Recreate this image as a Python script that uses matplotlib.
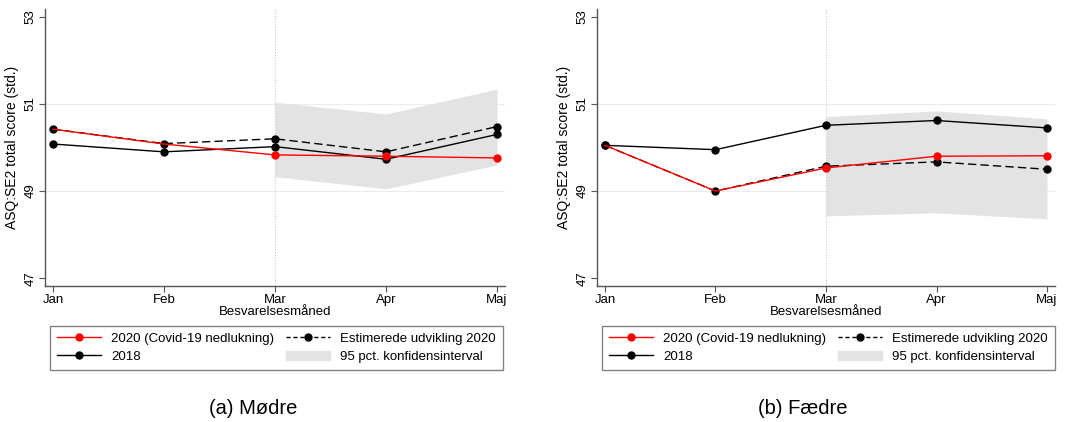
import matplotlib.pyplot as plt
from matplotlib.lines import Line2D
from matplotlib.patches import Patch

plt.rcParams['font.family'] = ['Liberation Sans', 'DejaVu Sans']

months = ["Jan", "Feb", "Mar", "Apr", "Maj"]

# Mødre
mor_2020 = [50.42, 50.08, 49.83, 49.80, 49.76]
mor_est = [50.42, 50.09, 50.20, 49.90, 50.48]
mor_2018 = [50.08, 49.90, 50.02, 49.73, 50.30]
mor_ci_lo = [49.33, 49.05, 49.60]
mor_ci_hi = [51.04, 50.77, 51.34]

# Fædre
far_2020 = [50.05, 49.00, 49.53, 49.80, 49.81]
far_est = [50.05, 49.00, 49.57, 49.67, 49.50]
far_2018 = [50.05, 49.95, 50.51, 50.62, 50.45]
far_ci_lo = [48.43, 48.50, 48.36]
far_ci_hi = [50.71, 50.84, 50.66]

fig = plt.figure(figsize=(10.81, 4.22), dpi=100)


def panel(rect, v2020, vest, v2018, lo, hi, caption, leg_x, cap_x):
    ax = fig.add_axes(rect)
    x = list(range(len(months)))
    xc = x[2:]
    ax.fill_between(xc, lo, hi, color="#e3e3e3", lw=0, zorder=1)
    for yv in (49, 51):
        ax.axhline(yv, color="#ececec", lw=0.8, zorder=0)
    ax.axvline(2, color="#c8c8c8", lw=0.8, ls=(0, (1, 1.5)), zorder=1)
    ax.plot(x, v2018, color="black", lw=1, marker="o", ms=5, zorder=3)
    ax.plot(x, vest, color="black", lw=1, ls=(0, (6, 3)), marker="o", ms=5, zorder=4)
    ax.plot(x, v2020, color="red", lw=1, marker="o", ms=5, zorder=5,
            markevery=[2, 3, 4])

    ax.set_xlim(-0.072, 4.072)
    ax.set_ylim(46.82, 53.18)
    ax.set_xticks(x)
    ax.set_xticklabels(months, fontsize=9.5)
    ax.set_yticks([47, 49, 51, 53])
    ax.set_yticklabels(["47", "49", "51", "53"], rotation=90, va="center", fontsize=9.5)
    ax.tick_params(axis="both", length=4, width=0.8, color="#555555", pad=2)
    ax.set_xlabel("Besvarelsesmåned", fontsize=9.5, labelpad=0)
    ax.set_ylabel("ASQ:SE2 total score (std.)", fontsize=10, labelpad=4)
    for s in ("top", "right"):
        ax.spines[s].set_visible(False)
    for s in ("left", "bottom"):
        ax.spines[s].set_color("#555555")
        ax.spines[s].set_linewidth(1)

    handles = [
        Line2D([], [], color="red", lw=1, marker="o", ms=5),
        Line2D([], [], color="black", lw=1, marker="o", ms=5),
        Line2D([], [], color="black", lw=1, ls=(0, (3, 2)), marker="o", ms=5),
        Patch(color="#e3e3e3"),
    ]
    labels = ["2020 (Covid-19 nedlukning)", "2018",
              "Estimerede udvikling 2020", "95 pct. konfidensinterval"]
    leg = fig.legend(handles, labels, ncol=2, loc="upper left",
                     bbox_to_anchor=(leg_x, 1 - 326 / 422), fontsize=9.5,
                     frameon=True, fancybox=False, handlelength=3.4,
                     columnspacing=0.85, labelspacing=0.45, borderpad=0.5,
                     handletextpad=0.75, borderaxespad=0)
    leg.get_frame().set_edgecolor("#666666")
    leg.get_frame().set_linewidth(1)
    fig.text(cap_x, 1 - 408 / 422, caption, fontsize=14.5, ha="center", va="center")
    return ax


panel([45 / 1081, 1 - 286 / 422, 460 / 1081, 277 / 422],
      mor_2020, mor_est, mor_2018, mor_ci_lo, mor_ci_hi, "(a) Mødre",
      50 / 1081, 253 / 1081)
panel([597 / 1081, 1 - 286 / 422, 458 / 1081, 277 / 422],
      far_2020, far_est, far_2018, far_ci_lo, far_ci_hi, "(b) Fædre",
      602 / 1081, 803 / 1081)

fig.savefig("out.png", dpi=100)
